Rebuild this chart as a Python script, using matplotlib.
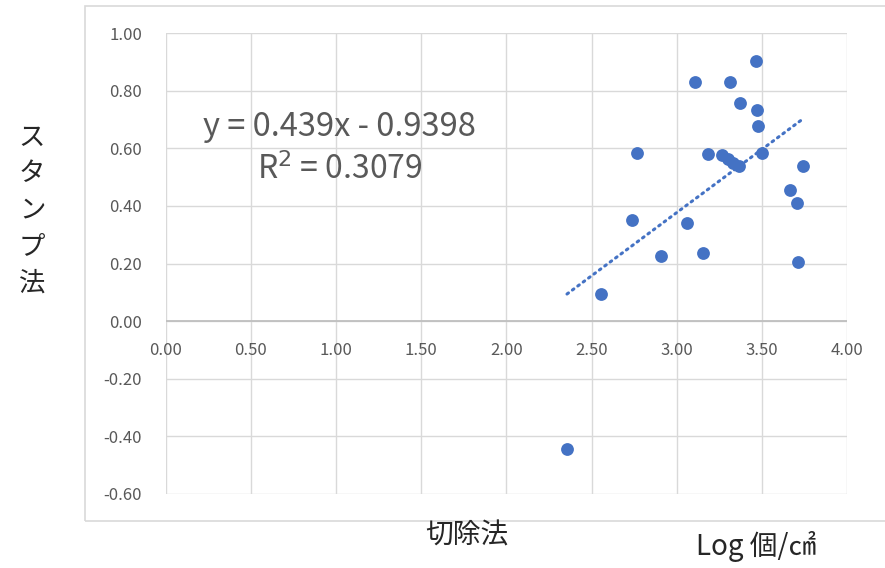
import numpy as np
import matplotlib.pyplot as plt
from matplotlib.patches import Rectangle

plt.rcParams['font.family'] = ['Noto Sans CJK JP', 'DejaVu Sans']

# 切除法 (Log 個/cm2) vs スタンプ法
x_cut = [3.462, 3.108, 3.313, 3.372, 3.469, 3.477, 2.766, 3.181, 3.263, 3.300,
         3.330, 3.366, 3.497, 3.739, 3.663, 3.706, 2.735, 3.057, 2.905, 3.155,
         3.708, 2.555, 2.355]
y_stamp = [0.904, 0.830, 0.830, 0.756, 0.734, 0.678, 0.582, 0.580, 0.576, 0.562,
           0.548, 0.538, 0.584, 0.538, 0.455, 0.409, 0.351, 0.342, 0.227, 0.236,
           0.205, 0.095, -0.443]
slope = 0.439
intercept = -0.9398
x_ticks = [0.0, 0.5, 1.0, 1.5, 2.0, 2.5, 3.0, 3.5, 4.0]
y_ticks = [-0.6, -0.4, -0.2, 0.0, 0.2, 0.4, 0.6, 0.8, 1.0]

blue = '#4472C4'
grid_c = '#d9d9d9'
text_c = '#595959'

W, H = 885, 568
fig = plt.figure(figsize=(W / 100, H / 100), dpi=100)
ax = fig.add_axes([165.7 / W, 1 - 494 / H, (847.3 - 165.7) / W, (494 - 33) / H])

# outer chart border
fig.add_artist(Rectangle((85 / W, 1 - 521 / H), 1.0, (521 - 6) / H,
                         transform=fig.transFigure, fill=False,
                         edgecolor=grid_c, lw=1.2))

ax.set_xlim(0, 4)
ax.set_ylim(-0.6, 1.0)
for s in ax.spines.values():
    s.set_visible(False)
for v in x_ticks:
    ax.axvline(v, color=grid_c, lw=1.0, zorder=0)
for v in y_ticks:
    ax.axhline(v, color=grid_c, lw=1.0, zorder=0)
ax.axhline(0, color='#bfbfbf', lw=1.3, zorder=1)

ax.set_xticks([])
ax.set_yticks(y_ticks)
ax.set_yticklabels([f'{v:.2f}' for v in y_ticks])
ax.tick_params(axis='y', length=0, pad=17, labelsize=12, labelcolor=text_c)

# x tick labels sit just under the zero line
for v in x_ticks:
    ax.annotate(f'{v:.2f}', (v, 0), xytext=(0, -21), textcoords='offset points',
                ha='center', va='center', fontsize=12, color=text_c,
                annotation_clip=False)

ax.scatter(x_cut, y_stamp, s=85, color=blue, zorder=3, linewidths=0)

xs = np.array([min(x_cut), max(x_cut)])
ax.plot(xs, slope * xs + intercept, color=blue, lw=2.2, ls=(0, (0.6, 1.6)),
        dash_capstyle='round', zorder=2)

fig.text(339 / W, 1 - 127 / H, f'y = {slope}x - {abs(intercept)}',
         ha='center', va='center', fontsize=23.5, color=text_c)
fig.text(340 / W, 1 - 170 / H, 'R$^2$ = 0.3079',
         ha='center', va='center', fontsize=23, color=text_c)

fig.text(32 / W, 1 - 210 / H, '\n'.join('スタンプ法'), ha='center', va='center',
         fontsize=19, color='#262626', linespacing=1.45)
fig.text(467 / W, 1 - 535 / H, '切除法', ha='center', va='center',
         fontsize=20, color='#262626')
fig.text(756 / W, 1 - 546 / H, 'Log 個/㎠', ha='center', va='center',
         fontsize=20, color='#262626')

fig.savefig('out.png', dpi=100)
